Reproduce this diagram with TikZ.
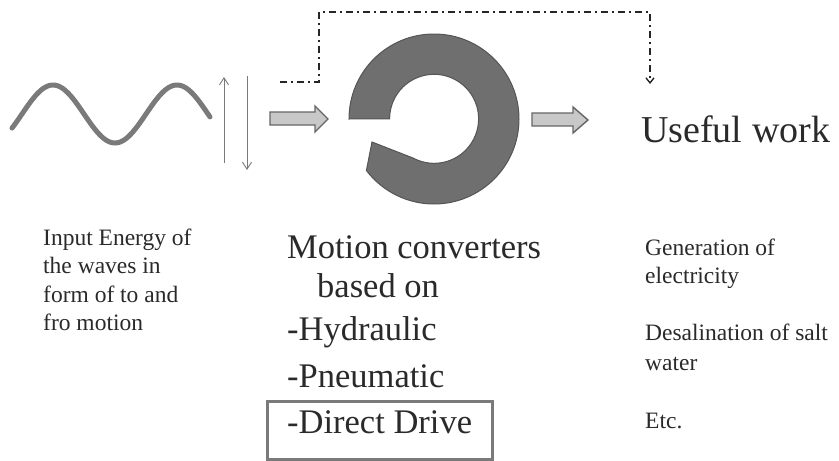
\documentclass[tikz,border=0pt]{standalone}
\usepackage{fontspec}
\setmainfont{Liberation Serif}
\usetikzlibrary{arrows.meta}
\definecolor{ringgray}{HTML}{6F6F6F}
\definecolor{ringedge}{HTML}{555555}
\definecolor{wavegray}{HTML}{7A7A7A}
\definecolor{arrowfill}{HTML}{C8C8C8}
\definecolor{arrowedge}{HTML}{666666}
\definecolor{txt}{HTML}{2A2A2A}
\tikzset{
  smalltxt/.style={anchor=base west, inner sep=0pt, text=txt, font=\fontsize{23.5}{28}\selectfont},
  bigtxt/.style={anchor=base west, inner sep=0pt, text=txt, font=\fontsize{34.5}{40}\selectfont},
  blockarrow/.style={fill=arrowfill, draw=arrowedge, line width=1.4pt, line join=miter},
  thinarrow/.style={draw=wavegray, line width=0.9pt, -{Straight Barb[length=7pt,width=9pt]}},
  feedback/.style={draw=black!85, line width=1.4pt, dash pattern=on 7pt off 4pt on 2pt off 4pt, -{Straight Barb[length=5pt,width=8pt]}}
}
\begin{document}
\begin{tikzpicture}[x=1pt,y=-1pt]
\useasboundingbox[fill=white] (0,0) rectangle (839,461);

% wave
\draw[wavegray, line width=5pt, line cap=round] plot[domain=12:210, samples=120, smooth] (\x, {114-29*cos((\x-53)*2.90323)});

% to and fro arrows
\coordinate (upA) at (224,163);
\coordinate (upB) at (224,77);
\coordinate (dnA) at (247,76);
\coordinate (dnB) at (247,170);
\draw[thinarrow] (upA) -- (upB);
\draw[thinarrow] (dnA) -- (dnB);

% block arrow 1
\draw[blockarrow] (270,112) -- (315,112) -- (315,106) -- (328,119) -- (315,132) -- (315,125) -- (270,125) -- cycle;
% block arrow 2
\draw[blockarrow] (532,113) -- (573,113) -- (573,107) -- (588,120) -- (573,133) -- (573,126) -- (532,126) -- cycle;

% ring (motion converter)
\coordinate (rc) at (434,119);
\fill[ringgray, draw=ringedge, line width=1pt]
  (349,119) arc[start angle=180, end angle=502.7, radius=85]
  -- (372,142) -- (413,158)
  arc[start angle=118.3, end angle=-180, radius=44.5] -- cycle;

% feedback dash-dot connector
\coordinate (fb0) at (280,82);
\coordinate (fb1) at (319,82);
\coordinate (fb2) at (319,12);
\coordinate (fb3) at (650,12);
\coordinate (fb4) at (650,84);
\draw[feedback] (fb0) -- (fb1) -- (fb2) -- (fb3) -- (fb4);

% texts
\node[anchor=base west, inner sep=0pt, text=txt, font=\fontsize{38}{44}\selectfont] (useful) at (641,142) {Useful work};

\node[smalltxt] (in1) at (43,245) {Input Energy of};
\node[smalltxt] (in2) at (43,273) {the waves in};
\node[smalltxt] (in3) at (43,302) {form of to and};
\node[smalltxt] (in4) at (43,330) {fro motion};

\node[bigtxt] (mc1) at (287,258) {Motion converters};
\node[bigtxt] (mc2) at (317,297) {based on};
\node[bigtxt] (mc3) at (287,340) {-Hydraulic};
\node[bigtxt] (mc4) at (287,387) {-Pneumatic};
\node[bigtxt] (mc5) at (287,433) {-Direct Drive};
\draw[draw=wavegray, line width=3pt] (267,401) rectangle (492,459);

\node[smalltxt] (g1) at (645,255) {Generation of};
\node[smalltxt] (g2) at (645,283) {electricity};
\node[smalltxt] (d1) at (645,340) {Desalination of salt};
\node[smalltxt] (d2) at (645,370) {water};
\node[smalltxt] (etc) at (645,428) {Etc.};
\end{tikzpicture}
\end{document}
